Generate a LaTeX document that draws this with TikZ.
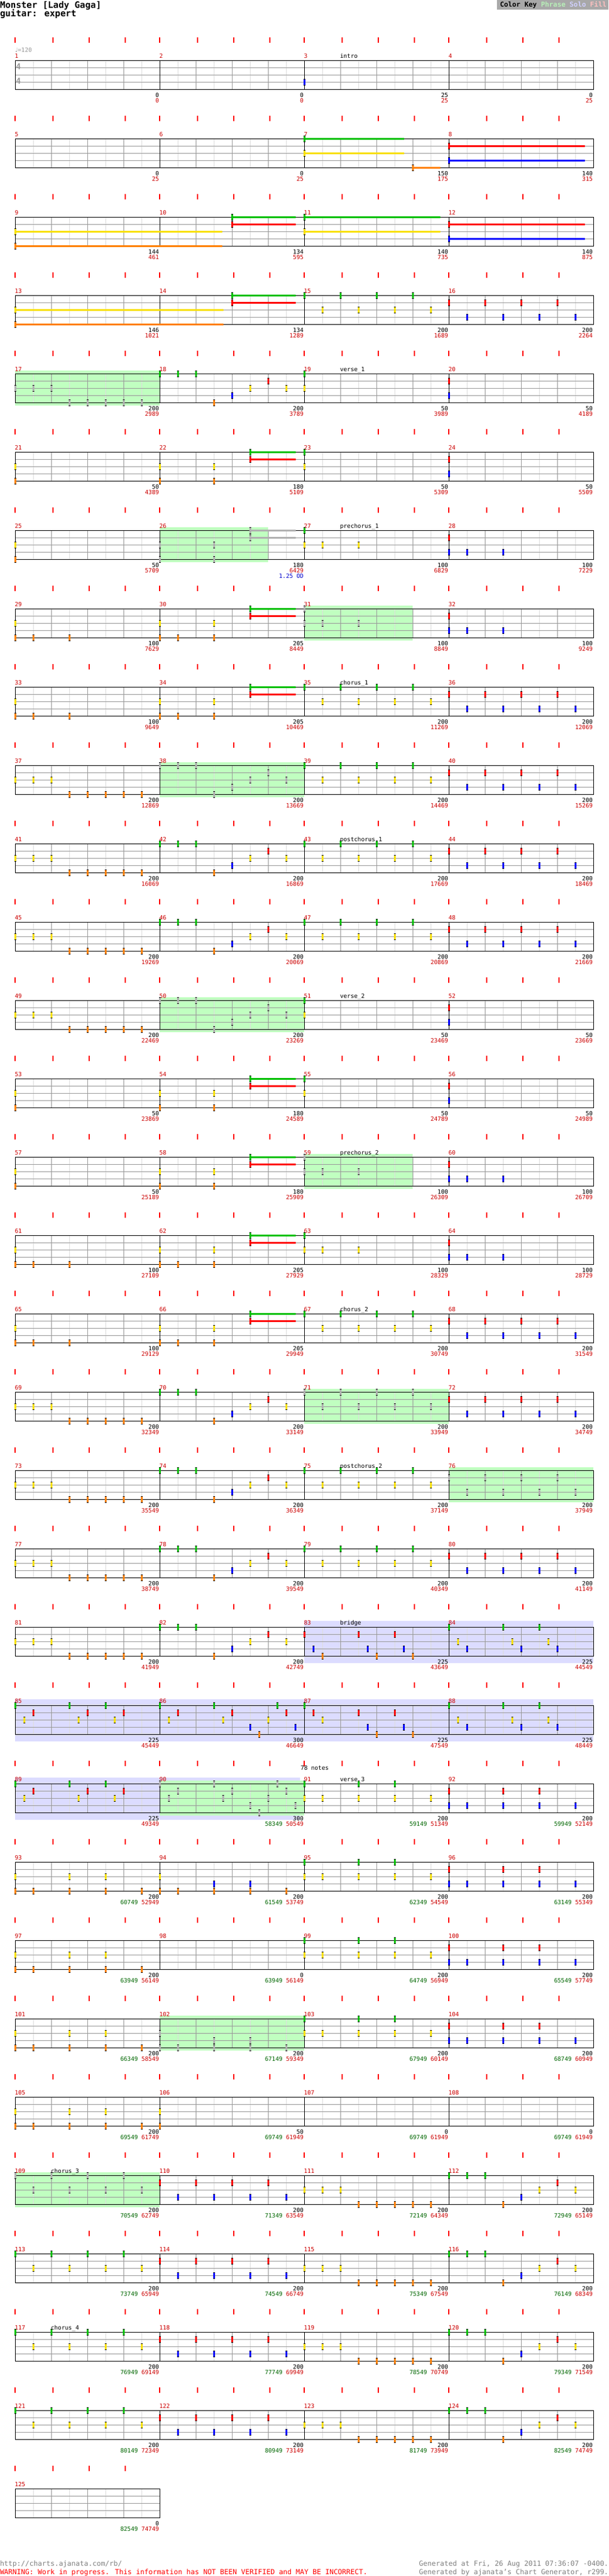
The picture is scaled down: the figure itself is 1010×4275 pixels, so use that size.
\documentclass[tikz,border=0pt]{standalone}
\usepackage{fontspec}
\setmainfont{DejaVu Sans Mono}
\newfontfamily\symf{DejaVu Sans}
\definecolor{c0}{HTML}{00C000}
\definecolor{c1}{HTML}{FF0000}
\definecolor{c2}{HTML}{F8E000}
\definecolor{c3}{HTML}{0000FF}
\definecolor{c4}{HTML}{FF8000}
\definecolor{spg}{HTML}{B0B0B0}
\definecolor{phr}{HTML}{C0FFC0}
\definecolor{solo}{HTML}{DCDCFF}
\definecolor{mred}{HTML}{CC0000}
\definecolor{dgreen}{HTML}{006600}
\definecolor{lgrid}{HTML}{DDDDDD}
\definecolor{mgrid}{HTML}{999999}
\definecolor{tickred}{HTML}{FF0000}
\definecolor{keybg}{HTML}{A8A8A8}
\definecolor{keyph}{HTML}{B8F0B8}
\definecolor{keyso}{HTML}{D0D0FF}
\definecolor{keyfi}{HTML}{FFC0C0}
\definecolor{foot}{HTML}{808080}
\definecolor{odblue}{HTML}{0000CC}
\newcommand\fs{\fontsize{9.7}{11}\selectfont}
\newif\ifsp
\newcommand\setm[1]{\pgfmathtruncatemacro\rr{(#1-1)/4}\pgfmathtruncatemacro\kk{#1-1-4*\rr}\pgfmathsetmacro\xo{25+240*\kk}\pgfmathsetmacro\yo{100+130*\rr}}
\newcommand\staffm{%
  \foreach \ii in {30,90,150,210}{\draw[lgrid,line width=1pt] ({\xo+\ii},\yo) -- ({\xo+\ii},{\yo+48});}
  \foreach \ii in {60,120,180}{\draw[mgrid,line width=1pt] ({\xo+\ii},\yo) -- ({\xo+\ii},{\yo+48});}
  \foreach \ii in {12,24,36}{\draw[mgrid,line width=1pt] (\xo,{\yo+\ii}) -- ({\xo+240},{\yo+\ii});}
  \draw[black,line width=1pt] (\xo,\yo) rectangle ({\xo+240},{\yo+48});
  \foreach \ii in {0,62.7,122.7,182.7}{\fill[tickred] ({\xo+\ii-1},{\yo-38}) rectangle ({\xo+\ii+1},{\yo-29});}}
\newcommand\nt[2]{\ifsp\def\ncol{spg}\else\edef\ncol{c#2}\fi
  \fill[black] ({\xo+#1-1.5},{\yo+12*#2-5.5}) rectangle ({\xo+#1+1.5},{\yo+12*#2+5.5});
  \fill[\ncol] ({\xo+#1-1.5},{\yo+12*#2-4.5}) rectangle ({\xo+#1+1.5},{\yo+12*#2+4.5});}
\newcommand\su[3]{\ifsp\def\scol{spg}\else\edef\scol{c#2}\fi
  \draw[\scol,line width=3pt] ({\xo+#1},{\yo+12*#2}) -- ({\xo+#3},{\yo+12*#2});
  \nt{#1}{#2}}
\newcommand\nl[1]{\foreach \qq/\la in {#1}{\nt{\qq}{\la}}}
\newcommand\phr[2]{\setm{#1}\fill[phr] (\xo,{\yo-5}) rectangle ({\xo+#2},{\yo+53});}
\newcommand\patA{\nl{0/0,60/0,120/0,180/0,30/2,90/2,150/2,210/2}}
\newcommand\patB{\nl{0/1,60/1,120/1,180/1,30/3,90/3,150/3,210/3}}
\newcommand\patR{\nl{0/2,30/2,60/2,90/4,120/4,150/4,180/4,210/4}}
\newcommand\patL{\nl{0/0,30/0,60/0,90/4,120/3,150/2,180/1,210/2}}
\newcommand\patGY{\nl{0/0,0/2}}
\newcommand\patRB{\nl{0/1,0/3}}
\newcommand\patYO{\nl{0/2,0/4}}
\newcommand\patVb{\su{150}{0}{225.7}\su{150}{1}{225.7}\nl{0/2,0/4,90/2,90/4}}
\newcommand\patPa{\nl{0/2,0/4,30/4,90/4}}
\newcommand\patPb{\su{150}{0}{225.7}\su{150}{1}{225.7}\nl{0/2,0/4,30/4,90/2,90/4}}
\newcommand\patPc{\nl{0/0,0/2,30/2,90/2}}
\newcommand\patPd{\nl{0/1,0/3,30/3,90/3}}
\newcommand\patBa{\nl{0/1,15/3,30/4,90/1,105/3,120/4,150/1,165/3,180/4}}
\newcommand\patBb{\nl{0/0,15/2,30/3,90/0,105/2,120/3,150/0,165/2,180/3}}
\newcommand\patBc{\nl{0/0,15/2,30/1,90/0,105/2,120/1,150/0,165/2,180/1}}
\newcommand\patBd{\nl{0/0,15/2,30/1,90/0,105/2,120/1,150/3,165/4,180/2,195/0,210/1,225/3}}
\newcommand\patBe{\nl{0/0,15/1,30/2,90/1,105/3,120/4,150/1,165/3,180/4}}
\newcommand\patVA{\nl{0/0,0/2,30/2,90/0,90/2,150/0,150/2,210/2}}
\newcommand\patVB{\nl{0/1,0/3,30/3,90/1,90/3,150/1,150/3,210/3}}
\newcommand\patVC{\nl{0/2,0/4,30/4,90/2,90/4,150/2,150/4,210/4}}
\newcommand\patVD{\nl{0/2,0/4,30/4,90/3,90/4,150/3,150/4,210/4}}
\begin{document}
\begin{tikzpicture}[x=1pt,y=-1pt,every node/.style={inner sep=0pt,outer sep=0pt,font=\fs},
  mnum/.style={text=mred,anchor=base west}]
\fill[white] (0,0) rectangle (1010,4275);
\useasboundingbox (0,0) rectangle (1010,4275);
% header
\node[anchor=base west,font=\fontsize{14.7}{16}\selectfont\bfseries] (title) at (0,13) {Monster [Lady Gaga]};
\node[anchor=base west,font=\fontsize{14.7}{16}\selectfont\bfseries] (sub) at (0,27.5) {guitar: expert};
\fill[keybg] (825,0) rectangle (1010,15.7);
\node[anchor=base west,font=\fontsize{11.3}{12}\selectfont\bfseries] (key) at (830,11) {Color Key \textcolor{keyph}{Phrase} \textcolor{keyso}{Solo} \textcolor{keyfi}{Fill}};
% solo and phrase areas
\fill[solo] (505,2690) rectangle (985,2760);
\fill[solo] (25,2820) rectangle (985,2890);
\fill[solo] (25,2950) rectangle (498,3020);
\phr{17}{240}\phr{26}{180}\phr{31}{180}\phr{38}{240}\phr{50}{240}\phr{59}{180}
\phr{71}{240}\phr{76}{240}\phr{90}{240}\phr{102}{240}\phr{109}{240}
% staffs
\foreach \m in {1,...,125}{\setm{\m}\staffm
  \node[mnum] (mn\m) at ({\xo-0.5},{\yo-3.3}) {\m};}
\node[anchor=base west,text=mgrid] (tempo) at (25,86.5) {{\symf ♩}=120};
\node[anchor=base west,font=\fontsize{13.7}{14}\selectfont\bfseries,text=mgrid] (ts1) at (26.5,115) {4};
\node[anchor=base west,font=\fontsize{13.7}{14}\selectfont\bfseries,text=mgrid] (ts2) at (26.5,139.5) {4};
% section labels
\foreach \m/\s in {3/intro,19/verse\_1,27/prechorus\_1,35/chorus\_1,43/postchorus\_1,51/verse\_2,59/prechorus\_2,67/chorus\_2,75/postchorus\_2,83/bridge,91/verse\_3,109/chorus\_3,117/chorus\_4}{\setm{\m}
  \node[anchor=base west] (sec\m) at ({\xo+59.5},{\yo-3.3}) {\s};}
% notes
\setm{3}\nl{0/3}
\setm{7}\su{0}{0}{165.7}\su{0}{2}{165.7}\su{180}{4}{225.7}
\setm{8}\su{0}{1}{225.7}\su{0}{3}{225.7}
\setm{9}\su{0}{2}{344}\su{0}{4}{344}
\setm{10}\su{120}{0}{225.7}\su{120}{1}{225.7}
\setm{11}\su{0}{0}{225.7}\su{0}{2}{225.7}
\setm{12}\su{0}{1}{225.7}\su{0}{3}{225.7}
\setm{13}\su{0}{2}{346}\su{0}{4}{346}
\setm{14}\su{120}{0}{225.7}\su{120}{1}{225.7}
\setm{15}\patA \setm{16}\patB \setm{17}\sptrue\patR\spfalse \setm{18}\patL
\setm{19}\patGY \setm{20}\patRB
\setm{21}\patYO \setm{22}\patVb \setm{23}\patGY \setm{24}\patRB
\setm{25}\patYO \setm{26}\sptrue\patVb\spfalse \setm{27}\patPc \setm{28}\patPd
\setm{29}\patPa \setm{30}\patPb \setm{31}\sptrue\patPc\spfalse \setm{32}\patPd
\setm{33}\patPa \setm{34}\patPb \setm{35}\patA \setm{36}\patB
\setm{37}\patR \setm{38}\sptrue\patL\spfalse \setm{39}\patA \setm{40}\patB
\setm{41}\patR \setm{42}\patL \setm{43}\patA \setm{44}\patB
\setm{45}\patR \setm{46}\patL \setm{47}\patA \setm{48}\patB
\setm{49}\patR \setm{50}\sptrue\patL\spfalse \setm{51}\patGY \setm{52}\patRB
\setm{53}\patYO \setm{54}\patVb \setm{55}\patGY \setm{56}\patRB
\setm{57}\patYO \setm{58}\patVb \setm{59}\sptrue\patPc\spfalse \setm{60}\patPd
\setm{61}\patPa \setm{62}\patPb \setm{63}\patPc \setm{64}\patPd
\setm{65}\patPa \setm{66}\patPb \setm{67}\patA \setm{68}\patB
\setm{69}\patR \setm{70}\patL \setm{71}\sptrue\patA\spfalse \setm{72}\patB
\setm{73}\patR \setm{74}\patL \setm{75}\patA \setm{76}\sptrue\patB\spfalse
\setm{77}\patR \setm{78}\patL \setm{79}\patA \setm{80}\patB
\setm{81}\patR \setm{82}\patL \setm{83}\patBa \setm{84}\patBb
\setm{85}\patBc \setm{86}\patBd \setm{87}\patBe \setm{88}\patBb
\setm{89}\patBc \setm{90}\sptrue\patBd\spfalse \setm{91}\patVA \setm{92}\patVB
\setm{93}\patVC \setm{94}\patVD \setm{95}\patVA \setm{96}\patVB
\setm{97}\patVC \setm{99}\patVA \setm{100}\patVB
\setm{101}\patVC \setm{102}\sptrue\patVD\spfalse \setm{103}\patVA \setm{104}\patVB
\setm{105}\patVC \setm{106}\patYO
\setm{109}\sptrue\patA\spfalse \setm{110}\patB \setm{111}\patR \setm{112}\patL
\setm{113}\patA \setm{114}\patB \setm{115}\patR \setm{116}\patL
\setm{117}\patA \setm{118}\patB \setm{119}\patR \setm{120}\patL
\setm{121}\patA \setm{122}\patB \setm{123}\patR \setm{124}\patL
% numbers under measures
\foreach \m/\b/\r in {1/0/0,2/0/0,3/25/25,4/0/25,5/0/25,6/0/25,7/150/175,8/140/315,9/144/461,10/134/595,11/140/735,12/140/875,13/146/1021,14/134/1289,15/200/1689,16/200/2264,17/200/2989,18/200/3789,19/50/3989,20/50/4189,21/50/4389,22/180/5109,23/50/5309,24/50/5509,25/50/5709,26/180/6429,27/100/6829,28/100/7229,29/100/7629,30/205/8449,31/100/8849,32/100/9249,33/100/9649,34/205/10469,35/200/11269,36/200/12069,37/200/12869,38/200/13669,39/200/14469,40/200/15269,41/200/16069,42/200/16869,43/200/17669,44/200/18469,45/200/19269,46/200/20069,47/200/20869,48/200/21669,49/200/22469,50/200/23269,51/50/23469,52/50/23669,53/50/23869,54/180/24589,55/50/24789,56/50/24989,57/50/25189,58/180/25909,59/100/26309,60/100/26709,61/100/27109,62/205/27929,63/100/28329,64/100/28729,65/100/29129,66/205/29949,67/200/30749,68/200/31549,69/200/32349,70/200/33149,71/200/33949,72/200/34749,73/200/35549,74/200/36349,75/200/37149,76/200/37949,77/200/38749,78/200/39549,79/200/40349,80/200/41149,81/200/41949,82/200/42749,83/225/43649,84/225/44549,85/225/45449,86/300/46649,87/225/47549,88/225/48449,89/225/49349}{\setm{\m}
  \node[anchor=base east] (nb\m) at ({\xo+239},{\yo+61}) {\b};
  \node[anchor=base east,text=mred] (nr\m) at ({\xo+239},{\yo+70}) {\r};}
\foreach \m/\b/\g/\r in {90/300/58349/50549,91/200/59149/51349,92/200/59949/52149,93/200/60749/52949,94/200/61549/53749,95/200/62349/54549,96/200/63149/55349,97/200/63949/56149,98/0/63949/56149,99/200/64749/56949,100/200/65549/57749,101/200/66349/58549,102/200/67149/59349,103/200/67949/60149,104/200/68749/60949,105/200/69549/61749,106/50/69749/61949,107/0/69749/61949,108/0/69749/61949,109/200/70549/62749,110/200/71349/63549,111/200/72149/64349,112/200/72949/65149,113/200/73749/65949,114/200/74549/66749,115/200/75349/67549,116/200/76149/68349,117/200/76949/69149,118/200/77749/69949,119/200/78549/70749,120/200/79349/71549,121/200/80149/72349,122/200/80949/73149,123/200/81749/73949,124/200/82549/74749,125/0/82549/74749}{\setm{\m}
  \node[anchor=base east] (nb\m) at ({\xo+239},{\yo+61}) {\b};
  \node[anchor=base east] (nr\m) at ({\xo+239},{\yo+70}) {\textcolor{dgreen}{\g} \textcolor{mred}{\r}};}
\node[anchor=base east,text=odblue] (od) at (504,959.5) {1.25 OD};
\node[anchor=base west] (notes78) at (499,2937) {78 notes};
% footer
\node[anchor=base west,font=\fontsize{11.6}{13}\selectfont,text=foot] (url) at (0,4258) {http://charts.ajanata.com/rb/};
\node[anchor=base west,font=\fontsize{11.6}{13}\selectfont,text=red] (warn) at (0,4272) {WARNING: Work in progress. This information has NOT BEEN VERIFIED and MAY BE INCORRECT.};
\node[anchor=base east,font=\fontsize{11.6}{13}\selectfont,text=foot] (gen1) at (1010,4258) {Generated at Fri, 26 Aug 2011 07:36:07 -0400.};
\node[anchor=base east,font=\fontsize{11.6}{13}\selectfont,text=foot] (gen2) at (1010,4272) {Generated by ajanata's Chart Generator, r299.};
\end{tikzpicture}
\end{document}
